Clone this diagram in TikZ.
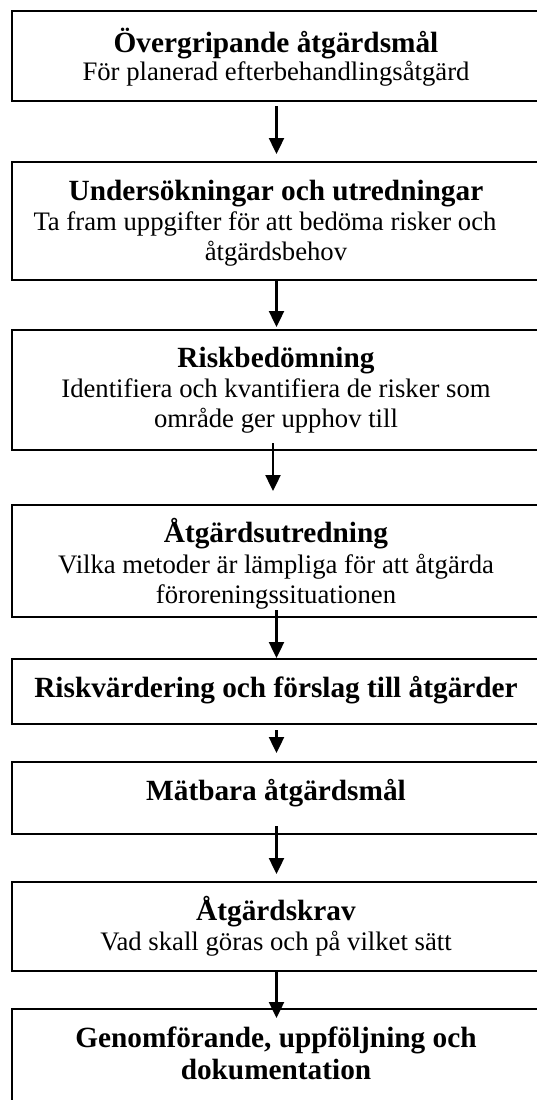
\documentclass[tikz,border=0pt]{standalone}
\usepackage{fontspec}
\setmainfont{Liberation Serif}
\usetikzlibrary{arrows.meta}
\begin{document}
\begin{tikzpicture}[x=1pt,y=-1pt,
  box/.style={draw=black, line width=2.2pt, minimum width=528pt, inner sep=0pt, outer sep=0pt},
  head/.style={anchor=base, inner sep=0pt, font=\fontsize{29.3}{30}\selectfont\bfseries},
  body/.style={anchor=base, inner sep=0pt, font=\fontsize{26.7}{30}\selectfont},
  arr/.style={line width=2.4pt, -{Triangle[width=15pt,length=16pt]}}]
\useasboundingbox (0,0) rectangle (537,1100);
\fill[white] (0,0) rectangle (537,1100);
\coordinate (ax) at (276.5,0);
% boxes
\node[box, minimum height=90pt]  (b1) at (276,56) {};
\node[box, minimum height=118pt] (b2) at (276,221) {};
\node[box, minimum height=120pt] (b3) at (276,390) {};
\node[box, minimum height=112pt] (b4) at (276,561) {};
\node[box, minimum height=65pt]  (b5) at (276,691.5) {};
\node[box, minimum height=72pt]  (b6) at (276,798) {};
\node[box, minimum height=89pt]  (b7) at (276,926.5) {};
\node[box, minimum height=120pt] (b8) at (276,1069) {};
% texts
\node[head] (t1a) at (276,52) {Övergripande åtgärdsmål};
\node[body] (t1b) at (276,80) {För planerad efterbehandlingsåtgärd};
\node[head] (t2a) at (276,200) {Undersökningar och utredningar};
\node[body] (t2b) at (265,230) {Ta fram uppgifter för att bedöma risker och};
\node[body] (t2c) at (276,260) {åtgärdsbehov};
\node[head] (t3a) at (276,367) {Riskbedömning};
\node[body] (t3b) at (276,397) {Identifiera och kvantifiera de risker som};
\node[body] (t3c) at (276,427) {område ger upphov till};
\node[head] (t4a) at (276,542) {Åtgärdsutredning};
\node[body] (t4b) at (276,573) {Vilka metoder är lämpliga för att åtgärda};
\node[body] (t4c) at (276,603) {föroreningssituationen};
\node[head] (t5a) at (276,697) {Riskvärdering och förslag till åtgärder};
\node[head] (t6a) at (276,800) {Mätbara åtgärdsmål};
\node[head] (t7a) at (276,920) {Åtgärdskrav};
\node[body] (t7b) at (276,950) {Vad skall göras och på vilket sätt};
\node[head] (t8a) at (276,1047) {Genomförande, uppföljning och};
\node[head] (t8b) at (276,1079) {dokumentation};
% arrows
\draw[arr] ([yshift=-5pt]b1.south -| ax) -- ([yshift=8pt]b2.north -| ax);
\draw[arr] (b2.south -| ax) -- ([yshift=3pt]b3.north -| ax);
\draw[arr] ([xshift=-3.5pt,yshift=7pt]b3.south -| ax) -- ([xshift=-3.5pt,yshift=14pt]b4.north -| ax);
\draw[arr] ([yshift=7pt]b4.south -| ax) -- ([yshift=1pt]b5.north -| ax);
\draw[arr] ([yshift=-6pt]b5.south -| ax) -- ([yshift=9pt]b6.north -| ax);
\draw[arr] ([yshift=8pt]b6.south -| ax) -- ([yshift=8pt]b7.north -| ax);
\draw[arr] (b7.south -| ax) -- ([yshift=-9pt]b8.north -| ax);
\end{tikzpicture}
\end{document}
